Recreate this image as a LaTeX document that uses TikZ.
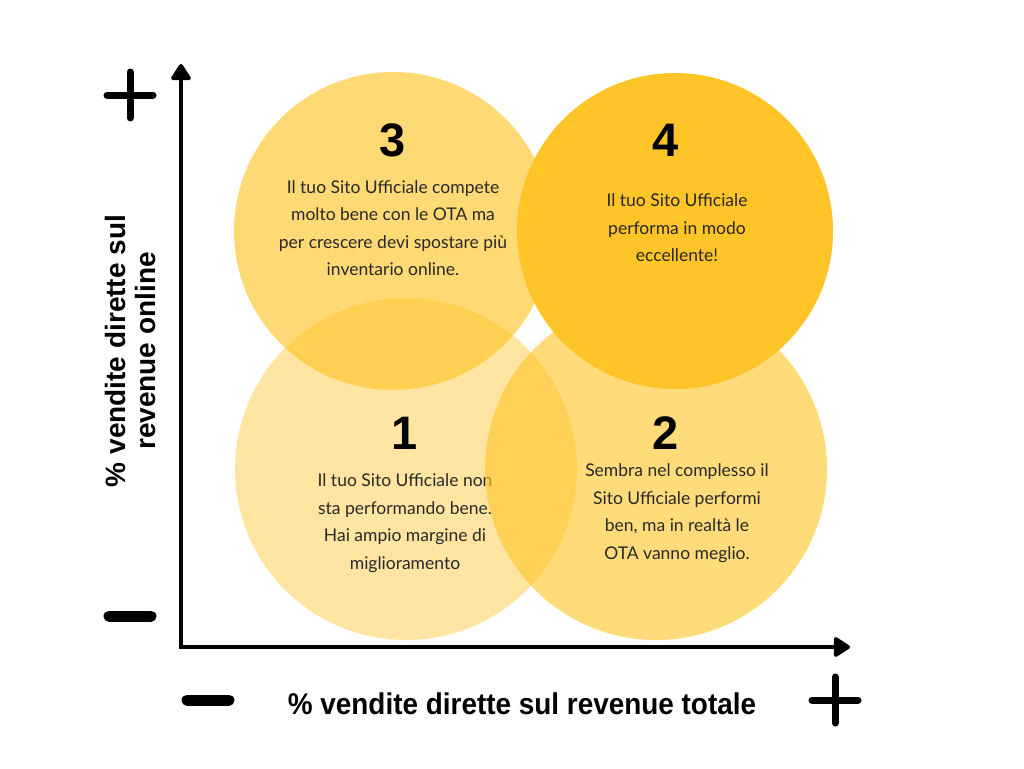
\documentclass[tikz,border=0pt]{standalone}
\usepackage{fontspec}
\setmainfont{Liberation Sans}
\newfontfamily\bodyfont{Lato}
\newfontfamily\headfont{Liberation Sans}
\usetikzlibrary{arrows.meta}
\definecolor{yel}{RGB}{255,198,41}
\definecolor{yelfour}{RGB}{254,196,40}
\definecolor{txt}{RGB}{40,40,40}
\tikzset{
  bubble/.style={circle, inner sep=0pt, fill=yel},
  num/.style={font=\headfont\bfseries\fontsize{47}{47}\selectfont, text=black, inner sep=0pt},
  body/.style={font=\bodyfont\fontsize{17.5}{27.5}\selectfont, text=txt, align=center, inner sep=0pt},
  axis/.style={line width=4pt, -{Triangle[width=22pt,length=18pt,round]}},
  plusline/.style={line width=7pt, line cap=round},
  minusline/.style={line width=11pt, line cap=round},
}
\begin{document}
\begin{tikzpicture}[x=1pt,y=-1pt]
\useasboundingbox (0,0) rectangle (1024,768);
\fill[white] (0,0) rectangle (1024,768);

% circle 3
\node[bubble, fill opacity=0.65, minimum size=318pt] (c3) at (393,231) {};
\node[num] (n3) at (393,140) {3};
\node[body] (t3) at (393,228) {Il tuo Sito Ufficiale compete\\molto bene con le OTA ma\\per crescere devi spostare più\\inventario online.};

% circle 1
\node[bubble, fill opacity=0.44, minimum size=342pt] (c1) at (406,469) {};
\node[num] (n1) at (405,433) {1};
\node[body] (t1) at (405,523) {Il tuo Sito Ufficiale non\\sta performando bene.\\Hai ampio margine di\\miglioramento};

% circle 2
\node[bubble, fill opacity=0.62, minimum size=342pt] (c2) at (656,469) {};
\node[num] (n2) at (666,433) {2};
\node[body] (t2) at (677,513) {Sembra nel complesso il\\Sito Ufficiale performi\\ben, ma in realtà le\\OTA vanno meglio.};

% circle 4
\node[bubble, fill=yelfour, minimum size=316pt] (c4) at (675,231) {};
\node[num] (n4) at (666,140) {4};
\node[body] (t4) at (677,228) {Il tuo Sito Ufficiale\\performa in modo\\eccellente!};

% axes
\coordinate (origin) at (181,647);
\coordinate (ytip) at (181,64);
\coordinate (xtip) at (850,647);
\draw[axis] ([yshift=-2pt]origin) -- (ytip);
\draw[axis] ([xshift=-2pt]origin) -- (xtip);

% plus / minus signs
\coordinate (ptop) at (130,95);
\draw[plusline] ([xshift=-23pt]ptop) -- ([xshift=23pt]ptop);
\draw[plusline] ([yshift=-23pt]ptop) -- ([yshift=23pt]ptop);
\coordinate (pright) at (835,700);
\draw[plusline] ([xshift=-23pt]pright) -- ([xshift=23pt]pright);
\draw[plusline] ([yshift=-23pt]pright) -- ([yshift=23pt]pright);
\coordinate (mleft) at (130,616);
\draw[minusline] ([xshift=-21pt]mleft) -- ([xshift=21pt]mleft);
\coordinate (mbottom) at (208,700);
\draw[minusline] ([xshift=-21pt]mbottom) -- ([xshift=21pt]mbottom);

% axis labels
\node[inner sep=0pt, rotate=90, align=center, font=\headfont\bfseries\fontsize{28}{30}\selectfont] (ylab) at (130,351) {\% vendite dirette sul\\revenue online};
\node[inner sep=0pt, font=\headfont\bfseries\fontsize{30}{30}\selectfont] (xlab) at (522,704) {\scalebox{0.93}[1]{\% vendite dirette sul revenue totale}};
\end{tikzpicture}
\end{document}
